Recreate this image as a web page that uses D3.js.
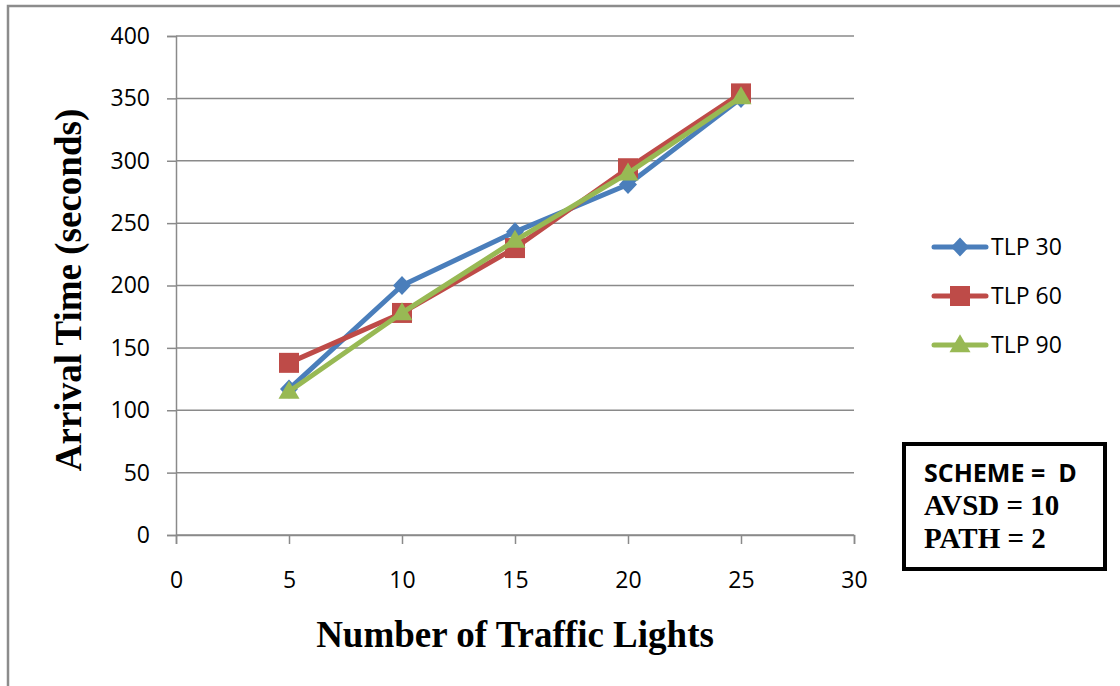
<!DOCTYPE html>
<html>
<head>
<meta charset="utf-8">
<script src="https://cdn.jsdelivr.net/npm/d3@7"></script>
<style>
  html, body { margin: 0; padding: 0; background: #fff; }
  svg { display: block; }
</style>
</head>
<body>
<svg id="chart" width="1120" height="686"></svg>
<script>
// Arrival time vs. number of traffic lights, for three TLP settings
const trafficLights = [5, 10, 15, 20, 25];
const tlp30 = [117, 200, 243, 281, 350];
const tlp60 = [138, 178, 230, 294, 354];
const tlp90 = [115, 178, 236, 290, 351];
const seriesNames = ["TLP 30", "TLP 60", "TLP 90"];
const xTicks = [0, 5, 10, 15, 20, 25, 30];
const yTicks = [0, 50, 100, 150, 200, 250, 300, 350, 400];
const infoLines = ["SCHEME =  D", "AVSD = 10", "PATH = 2"];

// marker shapes drawn around the origin
const diamond = (w, h) => `M0,${-h / 2}L${w / 2},0L0,${h / 2}L${-w / 2},0Z`;
const square = s => `M${-s / 2},${-s / 2}h${s}v${s}h${-s}Z`;
const triangle = (w, h) => `M0,${-h * 0.6}L${w / 2},${h * 0.4}L${-w / 2},${h * 0.4}Z`;

const series = [
  { name: seriesNames[0], values: tlp30, color: "#4a7ebb", marker: diamond(18, 19) },
  { name: seriesNames[1], values: tlp60, color: "#be4b48", marker: square(20) },
  { name: seriesNames[2], values: tlp90, color: "#98b954", marker: triangle(21, 18) }
];

const svg = d3.select("#chart");

// outer chart frame (extends past the right/bottom edges)
svg.append("rect")
  .attr("x", 8).attr("y", 6)
  .attr("width", 1130).attr("height", 700)
  .attr("fill", "#fff")
  .attr("stroke", "#8c8c8c")
  .attr("stroke-width", 2.5);

const x = d3.scaleLinear().domain([0, 30]).range([176, 854]);
const y = d3.scaleLinear().domain([0, 400]).range([535, 36]);

const tickFont = "'Open Sans', 'Liberation Sans', sans-serif";
const serif = "'Liberation Serif', 'Times New Roman', serif";

// horizontal gridlines
svg.append("g")
  .selectAll("line")
  .data(yTicks)
  .join("line")
  .attr("x1", x(0)).attr("x2", x(30))
  .attr("y1", d => y(d)).attr("y2", d => y(d))
  .attr("stroke", "#8a8a8a")
  .attr("stroke-width", 1.5);

// y axis
const yAxis = svg.append("g")
  .attr("transform", `translate(${x(0)},0)`)
  .call(d3.axisLeft(y).tickValues(yTicks).tickSize(9).tickPadding(17));
yAxis.select(".domain").attr("stroke", "#8a8a8a").attr("stroke-width", 1.5);
yAxis.selectAll(".tick line").attr("stroke", "#8a8a8a").attr("stroke-width", 1.5);
yAxis.selectAll(".tick text")
  .attr("font-family", tickFont).attr("font-size", 23).attr("fill", "#000");

// x axis
const xAxis = svg.append("g")
  .attr("transform", `translate(0,${y(0)})`)
  .call(d3.axisBottom(x).tickValues(xTicks).tickSize(9).tickPadding(28));
xAxis.select(".domain").attr("stroke", "#8a8a8a").attr("stroke-width", 1.5);
xAxis.selectAll(".tick line").attr("stroke", "#8a8a8a").attr("stroke-width", 1.5);
xAxis.selectAll(".tick text")
  .attr("font-family", tickFont).attr("font-size", 23).attr("fill", "#000");

// series lines and markers
const line = d3.line()
  .x((d, i) => x(trafficLights[i]))
  .y(d => y(d));

series.forEach(s => {
  svg.append("path")
    .datum(s.values)
    .attr("d", line)
    .attr("fill", "none")
    .attr("stroke", s.color)
    .attr("stroke-width", 5)
    .attr("stroke-linejoin", "round")
    .attr("stroke-linecap", "round");
  svg.append("g")
    .selectAll("path")
    .data(s.values)
    .join("path")
    .attr("transform", (d, i) => `translate(${x(trafficLights[i])},${y(d)})`)
    .attr("d", s.marker)
    .attr("fill", s.color);
});

// legend
const legend = svg.append("g");
series.forEach((s, i) => {
  const ly = 247 + i * 49;
  legend.append("line")
    .attr("x1", 934).attr("x2", 986)
    .attr("y1", ly).attr("y2", ly)
    .attr("stroke", s.color).attr("stroke-width", 5)
    .attr("stroke-linecap", "round");
  legend.append("path")
    .attr("transform", `translate(960,${ly})`)
    .attr("d", s.marker)
    .attr("fill", s.color);
  legend.append("text")
    .attr("x", 991).attr("y", ly)
    .attr("dy", "0.36em")
    .attr("font-family", tickFont)
    .attr("font-size", 23)
    .text(s.name);
});

// axis titles
svg.append("text")
  .attr("x", 515).attr("y", 647)
  .attr("text-anchor", "middle")
  .attr("font-family", serif)
  .attr("font-weight", "bold")
  .attr("font-size", 37)
  .text("Number of Traffic Lights");

svg.append("text")
  .attr("transform", "translate(81,290) rotate(-90)")
  .attr("text-anchor", "middle")
  .attr("font-family", serif)
  .attr("font-weight", "bold")
  .attr("font-size", 37)
  .text("Arrival Time (seconds)");

// scenario info box
svg.append("rect")
  .attr("x", 904).attr("y", 444)
  .attr("width", 201).attr("height", 125)
  .attr("fill", "#fff")
  .attr("stroke", "#000")
  .attr("stroke-width", 4);

const infoFonts = [tickFont, serif, serif];
const infoSizes = [25, 29, 29];
infoLines.forEach((t, i) => {
  svg.append("text")
    .attr("x", 924).attr("y", 482 + i * 33)
    .attr("font-family", infoFonts[i])
    .attr("font-weight", "bold")
    .attr("font-size", infoSizes[i])
    .attr("xml:space", "preserve")
    .style("white-space", "pre")
    .text(t);
});
</script>
</body>
</html>
